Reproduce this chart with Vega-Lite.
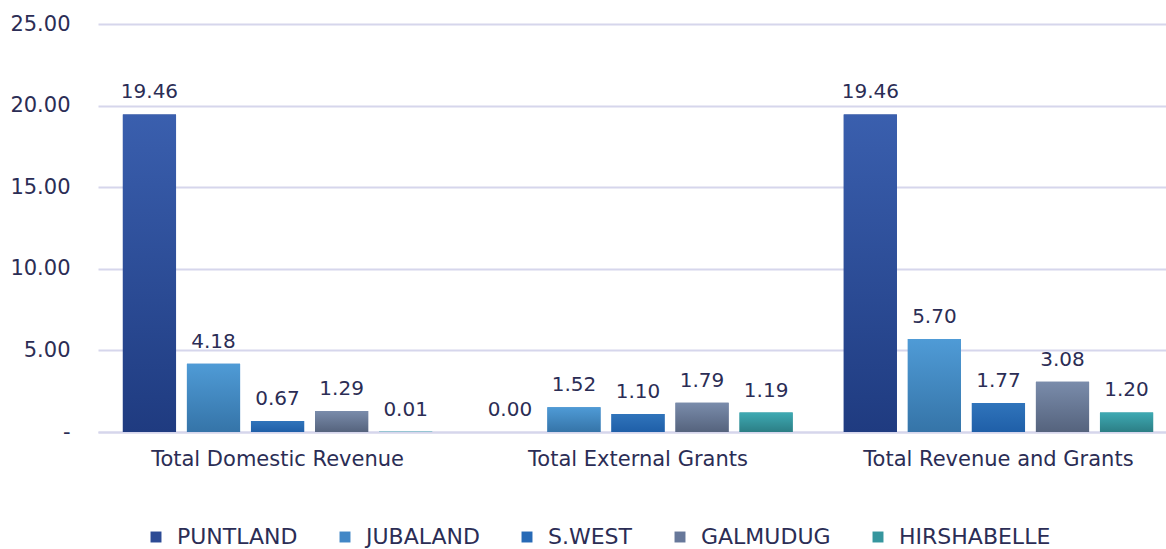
{
  "$schema": "https://vega.github.io/schema/vega-lite/v6.json",
  "width": 1080,
  "height": 408,
  "autosize": {"type": "none"},
  "padding": {"left": 98, "top": 24, "right": 0, "bottom": 117},
  "background": "white",
  "config": {
    "view": {"stroke": null},
    "font": "DejaVu Sans",
    "text": {"font": "DejaVu Sans"}
  },
  "data": {
    "values": [
      {"category": "Total Domestic Revenue", "state": "PUNTLAND", "value": 19.46},
      {"category": "Total Domestic Revenue", "state": "JUBALAND", "value": 4.18},
      {"category": "Total Domestic Revenue", "state": "S.WEST", "value": 0.67},
      {"category": "Total Domestic Revenue", "state": "GALMUDUG", "value": 1.29},
      {"category": "Total Domestic Revenue", "state": "HIRSHABELLE", "value": 0.01},
      {"category": "Total External Grants", "state": "PUNTLAND", "value": 0.0},
      {"category": "Total External Grants", "state": "JUBALAND", "value": 1.52},
      {"category": "Total External Grants", "state": "S.WEST", "value": 1.10},
      {"category": "Total External Grants", "state": "GALMUDUG", "value": 1.79},
      {"category": "Total External Grants", "state": "HIRSHABELLE", "value": 1.19},
      {"category": "Total Revenue and Grants", "state": "PUNTLAND", "value": 19.46},
      {"category": "Total Revenue and Grants", "state": "JUBALAND", "value": 5.70},
      {"category": "Total Revenue and Grants", "state": "S.WEST", "value": 1.77},
      {"category": "Total Revenue and Grants", "state": "GALMUDUG", "value": 3.08},
      {"category": "Total Revenue and Grants", "state": "HIRSHABELLE", "value": 1.20}
    ]
  },
  "encoding": {
    "x": {
      "field": "category", "type": "nominal", "sort": null,
      "scale": {"paddingInner": 0.1417, "paddingOuter": 0.069},
      "axis": {
        "title": null, "labelAngle": 0, "labelFontSize": 21, "labelColor": "#2b2d55",
        "labelFont": "DejaVu Sans", "labelPadding": 16, "labelLimit": 0, "ticks": false,
        "domain": true, "domainColor": "#d6d6ec", "domainWidth": 2
      }
    },
    "xOffset": {
      "field": "state", "type": "nominal",
      "sort": ["PUNTLAND", "JUBALAND", "S.WEST", "GALMUDUG", "HIRSHABELLE"],
      "scale": {"paddingInner": 0.17, "paddingOuter": 0}
    },
    "y": {
      "field": "value", "type": "quantitative",
      "scale": {"domain": [0, 25], "nice": false},
      "axis": {
        "title": null, "values": [0, 5, 10, 15, 20, 25],
        "labelExpr": "datum.value == 0 ? '-\u2007' : format(datum.value, '.2f')",
        "labelFontSize": 21, "labelColor": "#2b2d55", "labelFont": "DejaVu Sans",
        "labelPadding": 28, "ticks": false, "domain": false,
        "gridColor": "#d6d6ec", "gridWidth": 2
      }
    }
  },
  "layer": [
    {
      "mark": {"type": "bar"},
      "encoding": {
        "color": {
          "field": "state", "type": "nominal",
          "sort": ["PUNTLAND", "JUBALAND", "S.WEST", "GALMUDUG", "HIRSHABELLE"],
          "scale": {
            "domain": ["PUNTLAND", "JUBALAND", "S.WEST", "GALMUDUG", "HIRSHABELLE"],
            "range": ["#2c4b95", "#4287c6", "#276ab6", "#67789a", "#36969e"]
          },
          "legend": {
            "title": null, "orient": "none", "direction": "horizontal",
            "legendX": 47, "legendY": 502,
            "symbolType": "square", "symbolSize": 120, "symbolStrokeWidth": 0,
            "labelFontSize": 22, "labelColor": "#2b2d55", "labelFont": "DejaVu Sans",
            "labelOffset": 10, "columnPadding": 36, "labelLimit": 0
          }
        }
      }
    },
    {
      "transform": [{"filter": "datum.state == 'PUNTLAND'"}],
      "mark": {"type": "bar", "color": {"gradient": "linear", "x1": 0, "y1": 0, "x2": 0, "y2": 1, "stops": [{"offset": 0, "color": "#3a5fae"}, {"offset": 1, "color": "#1f3b80"}]}}
    },
    {
      "transform": [{"filter": "datum.state == 'JUBALAND'"}],
      "mark": {"type": "bar", "color": {"gradient": "linear", "x1": 0, "y1": 0, "x2": 0, "y2": 1, "stops": [{"offset": 0, "color": "#4f9bd6"}, {"offset": 1, "color": "#3574a8"}]}}
    },
    {
      "transform": [{"filter": "datum.state == 'S.WEST'"}],
      "mark": {"type": "bar", "color": {"gradient": "linear", "x1": 0, "y1": 0, "x2": 0, "y2": 1, "stops": [{"offset": 0, "color": "#3074bb"}, {"offset": 1, "color": "#1f5fa8"}]}}
    },
    {
      "transform": [{"filter": "datum.state == 'GALMUDUG'"}],
      "mark": {"type": "bar", "color": {"gradient": "linear", "x1": 0, "y1": 0, "x2": 0, "y2": 1, "stops": [{"offset": 0, "color": "#7a8cab"}, {"offset": 1, "color": "#55637d"}]}}
    },
    {
      "transform": [{"filter": "datum.state == 'HIRSHABELLE'"}],
      "mark": {"type": "bar", "color": {"gradient": "linear", "x1": 0, "y1": 0, "x2": 0, "y2": 1, "stops": [{"offset": 0, "color": "#3eaab3"}, {"offset": 1, "color": "#2c7e85"}]}}
    },
    {
      "mark": {"type": "text", "baseline": "bottom", "dy": -12, "fontSize": 20, "color": "#2b2d55", "font": "DejaVu Sans"},
      "encoding": {
        "text": {"field": "value", "type": "quantitative", "format": ".2f"}
      }
    }
  ]
}
